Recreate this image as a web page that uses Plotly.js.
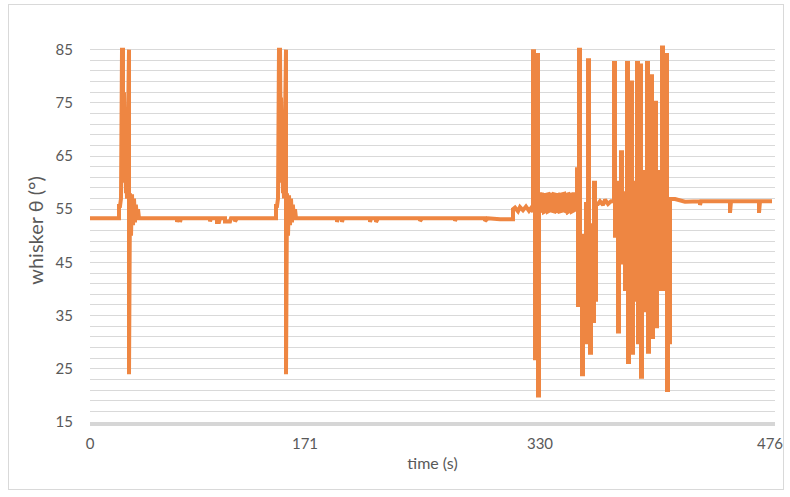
<!DOCTYPE html>
<html>
<head>
<meta charset="utf-8">
<script src="https://cdn.plot.ly/plotly-3.0.1.min.js"></script>
<style>
html,body{margin:0;padding:0;background:#fff;}
#frame{position:absolute;left:8px;top:4px;width:776px;height:486px;border:1px solid #d9d9d9;box-sizing:border-box;}
#chart{position:absolute;left:0;top:0;width:790px;height:497px;}
</style>
</head>
<body>
<div id="frame"></div>
<div id="chart"></div>
<script>
// ---- data: sample index (category position) and whisker angle θ (degrees) ----
const restStartIdx   = [0];
const restStartTheta = [53.3];

const spike1Idx   = [29,29,30,31,31,32,32,33,33,34,34,35,35,36,36,37,38,39,39,40,40,41,41,42,42,43,43,44,44,45,45,46,46,47,48,48,49];
const spike1Theta = [53.3,55.6,55.6,57,70,62,85,85,60,60,77,63,72,58,65,57,85,85,24,44,58,50,57.5,51,57.8,52,56.5,52.5,57,52.5,55.5,53,55.5,53.3,53.3,55,53.3];

const rest1Idx   = [87,87,88,90,90,91,120,120,121,127,127,129,130,135,135,140,141,145,145,147];
const rest1Theta = [53.3,52.6,53.3,53.3,52.6,53.3,53.3,52.7,53.3,53.3,52.6,52.6,53.3,53.3,52.7,52.7,53.3,53.3,52.7,53.3];

const spike2Idx   = [186,186,187,188,188,189,189,190,190,191,191,192,192,193,193,194,195,196,196,197,197,198,198,199,199,200,200,201,201,202,202,203,203,204,205,205,206];
const spike2Theta = [53.3,55.6,55.6,57,69,62,85,85,61,60,76,63,71,58,66,57,85,85,24,45,58,50,57.5,51,57.6,52,56.5,52.5,57,52.5,55.5,53,55.5,53.3,53.3,55,53.3];

const rest2Idx   = [247,247,248,252,252,253,280,280,281,286,286,288,330,330,332,365,365,366,395,395,398];
const rest2Theta = [53.3,52.6,53.3,53.3,52.6,53.3,53.3,52.6,53.3,53.3,52.6,53.3,53.3,52.8,53.3,53.3,52.8,53.3,53.3,52.8,53.3];

const preIdx   = [410,423,423,425,428,430,433,436,439,441,442];
const preTheta = [53.1,53.1,55,55.3,54.6,55.4,54.8,55.5,54.7,55.2,54.5];

const burst1Idx   = [443,443,444,444,445,445,446,446,447,447,448,448,449,449];
const burst1Theta = [54.5,84.7,84.7,56,56,27,27,50,50,84,84,20,20,57.8];

const bandIdx   = [450,450,452,452,454,454,456,456,458,458,460,460,462,462,464,464,466,466,468,468,470,470,472,472,474,474,476,476,478,478,480,480,482,482,484,484,486];
const bandTheta = [57.8,54.6,54.8,57.6,57.9,54.5,54.7,57.7,57.8,54.6,54.8,57.6,57.9,54.7,54.6,57.8,57.7,54.5,54.8,57.9,57.6,54.6,54.7,57.8,57.9,54.8,54.6,57.7,57.8,54.5,54.7,57.9,57.6,54.6,54.8,57.8,57.8];

const burst2Idx   = [487,487,488,488,489,489,490,490,491,491,492,492,493,493,495,495,496,496,497,497,498,498,499,499,500,500,501,501,503,503,504,504,505,505,506,506,508,510];
const burst2Theta = [57.8,62.5,62.5,37,37,85,85,40,40,50,50,24,24,48,48,30,30,56,56,36,36,83,83,52,52,28,28,50,50,34,34,60,60,38,38,56,56,56.5];

const midIdx   = [513,515,518,521,522];
const midTheta = [55.8,56.8,56,56.5,56.5];

const burst3Idx = [524,524,525,525,527,527,528,528,529,529,531,531,532,532,534,534,535,535,536,536,537,537,538,538,539,539,541,541,542,542,543,543,545,545,546,546,547,547,548,548,549,549,550,550,551,551,552,552,554,554,555,555,556,556,557,557,558,558,559,559,561,561,562,562,563,563,565,565,566,566,567,567,569,569,570,570,572,572,573,573,574,574,575,575,576,576,577,577,578,578,579,579,580,580];
const burst3Theta = [56.5,82.5,82.5,50,50,60,60,32,32,50,50,65.7,65.7,45,45,56,56,40,40,58,58,82.5,82.5,26.3,26.3,48,48,78.8,78.8,28,28,44,44,60,60,38,38,82.5,82.5,30,30,52,52,82,82,23.5,23.5,42,42,62,62,36,36,55,55,82.5,82.5,28.2,28.2,46,46,80,80,31,31,52,52,75,75,33,33,55,55,40,40,62,62,85.4,85.4,40,40,58,58,45,45,84,84,21,21,50,50,30,30,56.9];

const restEndIdx   = [585,595,610,610,611,640,640,641,669,669,670,682];
const restEndTheta = [56.9,56.4,56.5,55.8,56.5,56.5,54.3,56.5,56.5,54.3,56.5,56.5];

const tickSamples = [0, 215, 450, 680];
const tickLabels  = ['0', '171', '330', '476'];
const yTicks      = [15, 25, 35, 45, 55, 65, 75, 85];

const sampleIdx = [].concat(restStartIdx, spike1Idx, rest1Idx, spike2Idx, rest2Idx, preIdx, burst1Idx, bandIdx, burst2Idx, midIdx, burst3Idx, restEndIdx);
const thetaDeg  = [].concat(restStartTheta, spike1Theta, rest1Theta, spike2Theta, rest2Theta, preTheta, burst1Theta, bandTheta, burst2Theta, midTheta, burst3Theta, restEndTheta);

const font = 'Lato, "Open Sans", "DejaVu Sans", sans-serif';
const trace = {
  x: sampleIdx, y: thetaDeg, type: 'scatter', mode: 'lines',
  line: {color: '#EE8642', width: 4, shape: 'linear'}, hoverinfo: 'skip'
};
const layout = {
  width: 790, height: 497,
  margin: {l: 90, r: 15, t: 39, b: 75},
  paper_bgcolor: 'rgba(0,0,0,0)', plot_bgcolor: 'rgba(0,0,0,0)',
  showlegend: false,
  font: {family: font, color: '#595959', size: 15},
  xaxis: {
    range: [0, 685], showgrid: false, zeroline: false,
    tickmode: 'array', tickvals: tickSamples, ticktext: tickLabels,
    ticks: '', showline: true, linecolor: '#d6d6d6', linewidth: 4,
    ticklabelstandoff: 5,
    tickfont: {size: 15, color: '#595959'},
    title: {text: 'time (s)', font: {size: 16, color: '#595959'}, standoff: 8}
  },
  yaxis: {
    range: [15, 87], zeroline: false,
    tickmode: 'array', tickvals: yTicks, ticktext: yTicks.map(String),
    ticks: '', showline: false, showgrid: true, gridcolor: '#d9d9d9', gridwidth: 1,
    minor: {dtick: 2, tick0: 15, showgrid: true, gridcolor: '#d9d9d9', gridwidth: 1},
    ticklabelstandoff: 16,
    tickfont: {size: 15, color: '#595959'},
    title: {text: 'whisker θ (°)', font: {size: 20, color: '#595959'}, standoff: 6}
  }
};
Plotly.newPlot('chart', [trace], layout, {staticPlot: true, displayModeBar: false});
</script>
</body>
</html>
